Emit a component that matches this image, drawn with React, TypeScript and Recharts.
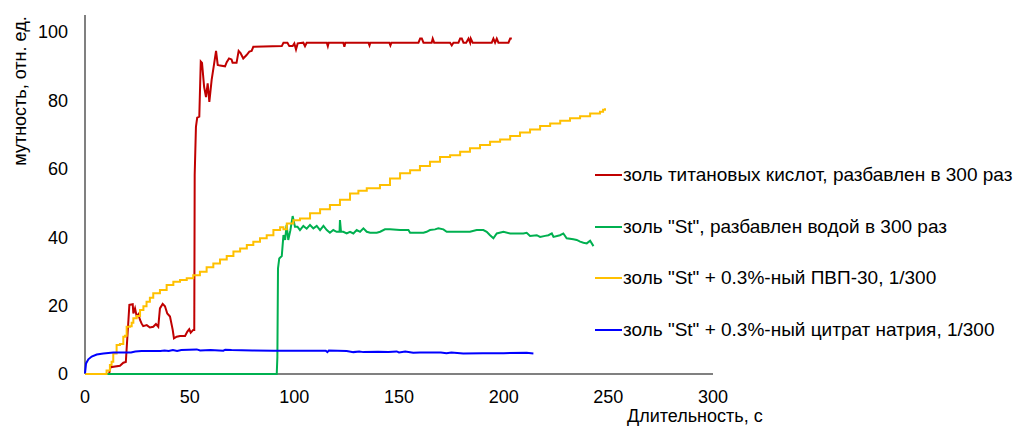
import React from 'react';
import { LineChart, Line, XAxis, YAxis, Legend, Label, ReferenceLine } from 'recharts';

// время, с / мутность, отн. ед.
const redTime = [0, 11.5, 12.2, 16.7, 18.3, 19.5, 21.2, 22.8, 23.1, 23.9, 24.7, 25.5, 26.3, 27, 27.8, 29.5, 31, 32.6, 33.9, 35, 35.8, 37.1, 38.2, 39.3, 40.6, 41.9, 42.5, 43.8, 45.4, 47.8, 48.9, 49.8, 50.5, 51.7, 52.2, 52.4, 53, 53.6, 54.6, 55.3, 55.9, 56.9, 57.8, 58.6, 59.4, 60.5, 61.6, 62.6, 63.4, 64.5, 66.9, 67.7, 68.8, 70, 70.5, 72.4, 73.4, 74.3, 75.6, 77.2, 78.5, 79.6, 80.4, 94, 94.8, 96.7, 97.6, 99.2, 100, 100.8, 101.6, 104.3, 105.1, 105.9, 115.5, 116, 116.4, 123.4, 123.9, 124.4, 135.4, 135.9, 136.3, 145.4, 145.9, 146.4, 159.3, 160.1, 160.9, 161.7, 165.6, 166.1, 166.8, 174.4, 175.2, 176, 178.4, 179.2, 180, 180.8, 182.1, 183.2, 184, 184.3, 185.2, 194.3, 195.1, 195.9, 196.7, 197.5, 202.3, 203.1, 203.9];
const redTurbidity = [0, 0, 2, 2.4, 3.3, 3.5, 20.2, 20.4, 17.7, 19.2, 16.8, 17.5, 15.8, 14.8, 14, 14.3, 13.6, 13.8, 14.6, 13.8, 19.2, 20.5, 19.8, 17.7, 16.8, 12.9, 10.4, 10.9, 11.1, 11.1, 12.4, 13.1, 12.1, 12.9, 12.9, 58.2, 72.3, 75, 75.3, 91.4, 91, 84, 81, 85, 79.6, 86, 90.4, 94.5, 90.4, 90.2, 90, 91.2, 92.3, 92, 91, 91, 94.5, 93.9, 92.3, 93.3, 94.3, 94.5, 95.7, 95.9, 96.9, 96.9, 95.9, 95.9, 96.7, 94.9, 96.7, 96.9, 95.9, 96.9, 96.9, 95.9, 96.9, 96.9, 95.7, 96.9, 96.9, 96.1, 96.9, 96.9, 96.1, 96.9, 96.9, 98.1, 98.1, 96.9, 96.9, 98.1, 96.9, 96.9, 96.1, 96.9, 96.9, 98.1, 98.1, 96.9, 96.9, 98.1, 96.9, 98.1, 96.9, 96.9, 98.1, 96.9, 98.1, 96.9, 96.9, 98.1, 98.1];

const greenTime = [0, 91.6, 91.9, 92.2, 92.8, 94, 94.8, 95.6, 96.3, 97.1, 98.1, 99.2, 100.3, 101.5, 102.7, 104.3, 105.9, 107.5, 109.1, 110.7, 112.3, 113.9, 115.5, 117, 118.6, 120.2, 121.6, 121.8, 122.3, 123.4, 125, 126.6, 128.2, 129.8, 131.4, 133, 134.6, 136.2, 139.4, 141, 143.3, 145.7, 150.5, 154.5, 155.3, 161.7, 163.2, 164.8, 167.2, 168.8, 171.2, 172.8, 183.9, 187.1, 190.3, 191.9, 193.5, 195.1, 196.7, 199.9, 203.1, 206.2, 209.4, 211, 212.6, 215.8, 217.4, 219.8, 221.4, 223, 223.8, 226.9, 228.5, 230.1, 233.3, 234.9, 236.5, 238.1, 239.7, 241.3, 242.9];
const greenTurbidity = [0, 0, 5, 30.9, 33.8, 34.5, 40.6, 39.2, 43.6, 39.2, 42, 46.2, 43.1, 43.1, 42.1, 43.3, 42.5, 43.6, 42.6, 43.3, 42.1, 43.3, 42.1, 41.3, 42.1, 41.6, 41.6, 45, 41.6, 41.6, 41.1, 41.6, 41.1, 42.1, 41.6, 42.6, 41.6, 41.3, 41.3, 41.6, 42.3, 42.3, 42.1, 42.1, 41.3, 41.3, 41.6, 42.1, 42.3, 42.6, 42.3, 41.6, 41.6, 42.1, 42.1, 41.6, 40.6, 39.7, 41.1, 41.6, 41.1, 41.1, 41.1, 41.3, 40.4, 40.6, 40.1, 40.4, 40.6, 41.1, 40.1, 40.6, 41.1, 39.7, 39.4, 39.2, 38.7, 38.4, 38.2, 39, 37.4];

const yellowTime = [0, 9.6, 10.3, 11.9, 12.7, 13.5, 15.1, 16.7, 18.3, 19.1, 19.9, 21.5, 22.3, 23.1, 24.7, 26.3, 27.9, 29.4, 31, 32.6, 35.8, 39, 42.2, 45.4, 48.6, 51.7, 54.9, 58.1, 61.3, 64.5, 67.7, 70.9, 74.1, 77.3, 80.4, 83.6, 86.8, 90, 93.2, 94.8, 96.4, 99.5, 102.7, 107.5, 112.3, 117, 121.8, 126.6, 130.6, 134.6, 140.9, 145.7, 150.5, 155.3, 160, 164.8, 169.6, 174.4, 179.2, 183.9, 188.7, 193.5, 198.3, 203.1, 207.8, 212.6, 217.4, 222.2, 227, 231.7, 236.5, 241.3, 246, 247.5, 248.4];
const yellowTurbidity = [0, 0, 1, 2.6, 3.6, 6, 8.5, 8.8, 10.9, 11.2, 13.8, 14, 15, 16.3, 17, 18.7, 19.8, 21.1, 22.3, 23.6, 24.6, 26, 27, 27.5, 28, 28.9, 29.9, 31.2, 32.3, 33.5, 34.5, 35.8, 36.7, 37.7, 38.7, 39.7, 40.6, 42.1, 42.9, 42.3, 44, 45, 45.5, 47, 48.2, 49.4, 51, 52.8, 53.6, 54.3, 55.3, 57.2, 58.7, 59.6, 60.8, 62.1, 63.5, 64, 65, 66, 67, 67.9, 68.6, 69.6, 70.6, 71.5, 72.5, 73.3, 74.1, 74.8, 75.4, 76.2, 76.7, 77.3, 77.7];

const blueTime = [0, 0.5, 1.6, 3.2, 5.6, 8.8, 13.5, 22, 24, 27, 36, 38, 40, 42, 44, 46, 53.4, 55, 60, 66.1, 67, 70, 80, 90, 100, 115, 115.8, 116.5, 125, 128.2, 131, 133, 140, 145, 148.9, 150, 153, 156.8, 160, 170, 172.7, 175, 180.7, 190, 200, 211, 214.2];
const blueTurbidity = [0.2, 3.1, 4.3, 5.1, 5.7, 6, 6.3, 6.3, 6.6, 6.7, 6.7, 6.9, 6.7, 7, 6.7, 7, 7.2, 6.9, 7, 6.8, 7.1, 7, 6.9, 6.8, 6.8, 6.8, 6.4, 6.9, 6.7, 6.4, 6.6, 6.4, 6.5, 6.4, 6.6, 6.3, 6.6, 6.2, 6.3, 6.3, 6.1, 6.3, 6, 6.1, 6.1, 6.2, 6];

const xTicks = [0, 50, 100, 150, 200, 250, 300];
const yTicks = [0, 20, 40, 60, 80, 100];

const toPoints = (time: number[], values: number[]) => time.map((t, i) => ({ t, v: values[i] }));

const series = [
  { name: 'золь титановых кислот, разбавлен в 300 раз', color: '#C00000', curve: 'linear', data: toPoints(redTime, redTurbidity) },
  { name: 'золь "St", разбавлен водой в 300 раз', color: '#00B050', curve: 'linear', data: toPoints(greenTime, greenTurbidity) },
  { name: 'золь "St" + 0.3%-ный ПВП-30, 1/300', color: '#FFC000', curve: 'stepAfter', data: toPoints(yellowTime, yellowTurbidity) },
  { name: 'золь "St" + 0.3%-ный цитрат натрия, 1/300', color: '#0000FF', curve: 'linear', data: toPoints(blueTime, blueTurbidity) },
];

const font = 'Arial, "Liberation Sans", sans-serif';
const axisColor = '#808080';

const renderLegend = () => (
  <div style={{ fontFamily: font, fontSize: 19, color: '#000' }}>
    {series.map(s => (
      <div key={s.name} style={{ display: 'flex', alignItems: 'center', height: 51.7, whiteSpace: 'nowrap' }}>
        <span style={{ display: 'inline-block', width: 27, height: 2, background: s.color, marginRight: 1 }} />
        <span>{s.name}</span>
      </div>
    ))}
  </div>
);

export default function App() {
  return (
    <div style={{ position: 'absolute', left: 0, top: 0, width: 1016, height: 426, background: '#fff' }}>
      <LineChart width={1016} height={426} margin={{ top: 15, right: 303, bottom: 0, left: 25 }}>
        <XAxis
          dataKey="t"
          type="number"
          domain={[0, 300]}
          ticks={xTicks}
          height={52}
          axisLine={false}
          tickLine={false}
          tickSize={0}
          tickMargin={16}
          tick={{ fill: '#000', fontSize: 18, fontFamily: font }}
        >
          <Label
            content={() => (
              <text x={627} y={422} fill="#000" fontSize={18} fontFamily={font}>
                Длительность, с
              </text>
            )}
          />
        </XAxis>
        <YAxis
          type="number"
          domain={[0, 105]}
          ticks={yTicks}
          width={60}
          axisLine={false}
          tickLine={false}
          tickSize={0}
          tickMargin={17}
          tick={{ fill: '#000', fontSize: 18, fontFamily: font }}
        >
          <Label
            content={() => (
              <text x={26} y={91} transform="rotate(-90, 26, 91)" textAnchor="middle" fill="#000" fontSize={18} fontFamily={font}>
                мутность, отн. ед.
              </text>
            )}
          />
        </YAxis>
        {/* axes drawn as reference lines so the series at 0 sit on top of them */}
        <ReferenceLine y={0} stroke={axisColor} strokeWidth={2} ifOverflow="visible" />
        <ReferenceLine x={0} stroke={axisColor} strokeWidth={2} ifOverflow="visible" />
        <Legend
          layout="horizontal"
          verticalAlign="middle"
          align="center"
          wrapperStyle={{ left: 595, top: 149, width: 421 }}
          content={renderLegend}
        />
        {series.map(s => (
          <Line
            key={s.name}
            data={s.data}
            dataKey="v"
            name={s.name}
            type={s.curve as 'linear' | 'stepAfter'}
            stroke={s.color}
            strokeWidth={2}
            dot={false}
            activeDot={false}
            isAnimationActive={false}
          />
        ))}
      </LineChart>
    </div>
  );
}
